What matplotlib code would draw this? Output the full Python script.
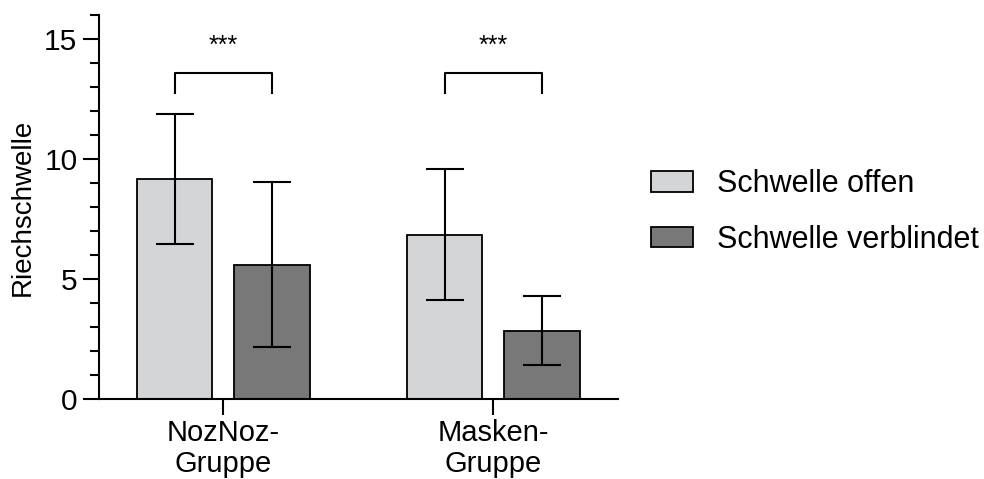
import numpy as np
import matplotlib
matplotlib.use("Agg")
import matplotlib.pyplot as plt
from matplotlib.ticker import MultipleLocator

plt.rcParams['font.family'] = ['Liberation Sans', 'DejaVu Sans']

groups = ["NozNoz-\nGruppe", "Masken-\nGruppe"]
series = ["Schwelle offen", "Schwelle verblindet"]
means_open = [9.17, 6.85]
sd_open = [2.72, 2.73]
means_blind = [5.60, 2.86]
sd_blind = [3.44, 1.42]
signif = ["***", "***"]

colors = ["#d4d5d7", "#777877"]
width = 0.28
offset = 0.18
x = np.arange(len(groups))

fig = plt.figure(figsize=(9.84, 4.79), dpi=100)
ax = fig.add_axes([0.1006, 0.1664, 0.5277, 0.8023])

for i, (m, s) in enumerate([(means_open, sd_open), (means_blind, sd_blind)]):
    pos = x + (2 * i - 1) * offset
    ax.bar(pos, m, width, color=colors[i], edgecolor="black", linewidth=1.3,
           label=series[i], zorder=2)
    ax.errorbar(pos, m, yerr=s, fmt="none", ecolor="black", elinewidth=1.5,
                capsize=14, capthick=1.5, zorder=3)

# significance brackets
for xi, txt in zip(x, signif):
    xl, xr = xi - offset, xi + offset
    ax.plot([xl, xl, xr, xr], [12.75, 13.58, 13.58, 12.75], color="black",
            lw=1.5, clip_on=False)
    ax.text(xi, 14.7, txt, ha="center", va="center", fontsize=18)

ax.set_xlim(-0.46, 1.463)
ax.set_ylim(0, 16)
ax.set_xticks(x)
ax.set_xticklabels(groups, fontsize=21, linespacing=1.12)
ax.set_yticks([0, 5, 10, 15])
ax.yaxis.set_minor_locator(MultipleLocator(1))
ax.tick_params(axis="y", labelsize=21.5, width=1.5, length=11.5, pad=4)
ax.tick_params(axis="y", which="minor", width=1.5, length=6.5)
ax.tick_params(axis="x", width=1.5, length=11.5, pad=3)
ax.set_ylabel("Riechschwelle", fontsize=20, labelpad=6)

for side in ["top", "right"]:
    ax.spines[side].set_visible(False)
for side in ["left", "bottom"]:
    ax.spines[side].set_linewidth(1.5)

ax.legend(loc="center left", bbox_to_anchor=(0.6616, 0.5575),
          bbox_transform=fig.transFigure, frameon=False, fontsize=22,
          handlelength=1.37, handleheight=0.65, handletextpad=0.8,
          labelspacing=0.84, borderpad=0, borderaxespad=0)

fig.savefig("out.png", dpi=100)
